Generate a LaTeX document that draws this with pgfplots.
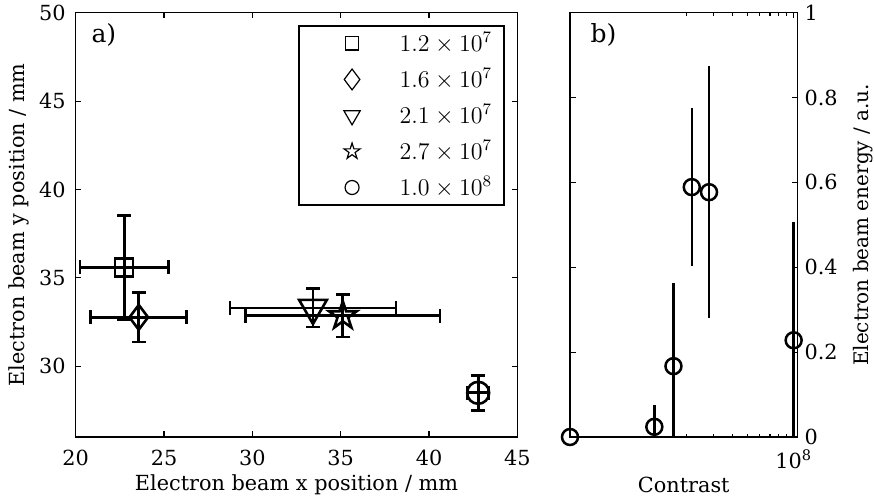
\documentclass[border=0pt]{standalone}
\usepackage{fontspec}
\setmainfont{DejaVu Serif}
\usepackage{pgfplots}
\pgfplotsset{compat=1.18}

% outlined five-pointed star (pentagram) mark
\pgfdeclareplotmark{pstar}{%
  \pgfpathmoveto{\pgfpointpolar{90}{\pgfplotmarksize}}%
  \foreach \a in {1,...,4}{%
    \pgfpathlineto{\pgfpointpolar{90+72*\a-36}{0.382\pgfplotmarksize}}%
    \pgfpathlineto{\pgfpointpolar{90+72*\a}{\pgfplotmarksize}}%
  }%
  \pgfpathlineto{\pgfpointpolar{54}{0.382\pgfplotmarksize}}%
  \pgfpathclose
  \pgfusepathqstroke}

\pgfplotsset{
  base/.style={
    scale only axis,
    height=212.15pt,
    axis line style={line width=0.7pt},
    tick style={black, line width=0.6pt},
    major tick length=2.8pt,
    minor tick length=1.6pt,
    tick align=inside,
    tick label style={font=\fontsize{10.4}{12}\selectfont},
    label style={font=\fontsize{10.4}{12}\selectfont},
    /pgf/number format/assume math mode=true,
    xticklabel style={yshift=-3pt},
    yticklabel style={xshift=-1.5pt},
    xlabel style={yshift=2.5pt},
  },
  % horizontal error bars only, no marker
  xerrs/.style={
    only marks, black, line width=1.4pt, mark=*, mark size=0pt,
    mark options={draw=none, fill=none},
    error bars/x dir=both, error bars/x explicit,
    error bars/error bar style={line width=1.4pt, black},
    error bars/error mark options={rotate=90, line width=1.4pt, mark size=3.5pt, black},
  },
  % vertical error bars with the marker
  yerrs/.style={
    only marks, black, line width=1.4pt,
    error bars/y dir=both, error bars/y explicit,
    error bars/error bar style={line width=1.4pt, black},
    error bars/error mark options={rotate=90, line width=1.4pt, mark size=3.5pt, black},
  },
  limg/.style={
    legend image code/.code={%
      \path (-22pt,-6pt) (21.3pt,6pt);
      \draw[##1] plot coordinates {(0pt,0pt)};}
  },
}

\begin{document}
\begin{tikzpicture}
\useasboundingbox (-37.85pt,-31.5pt) rectangle (399.15pt,218.5pt);

% panel a)
\begin{axis}[
  base,
  width=220.85pt,
  xmin=20, xmax=45, ymin=26, ymax=50,
  xtick={20,25,...,45}, ytick={30,35,...,50},
  xlabel={Electron beam x position / mm},
  ylabel={Electron beam y position / mm},
  ylabel style={yshift=-2pt},
  legend style={at={(0.972,0.971)}, anchor=north east, draw=black,
    line width=1pt, inner xsep=4pt, inner ysep=1.2pt, row sep=3pt,
    font=\fontsize{12}{14}\selectfont, cells={anchor=west},
    nodes={inner sep=2pt}},
  legend cell align=left,
]
% x errors
\addplot+[xerrs, forget plot] coordinates {
  (22.74,35.60) +- (2.50,0)
  (23.57,32.77) +- (2.72,0)
  (33.43,33.30) +- (4.70,0)
  (35.12,32.86) +- (5.50,0)
  (42.78,28.50) +- (0.60,0)
};
% y errors and markers
\addplot+[yerrs, mark=square, mark size=4.5pt,
  mark options={line width=1.3pt, solid}, forget plot]
  coordinates {(22.74,35.60) +- (0,2.95)};
\addplot+[yerrs, mark=diamond, mark size=6.2pt,
  mark options={line width=1.3pt, solid}, forget plot]
  coordinates {(23.57,32.77) +- (0,1.40)};
\addplot+[yerrs, mark=triangle, mark size=8pt,
  mark options={line width=1.3pt, solid, rotate=180}, forget plot]
  coordinates {(33.43,33.30) +- (0,1.08)};
\addplot+[yerrs, mark=pstar, mark size=7.3pt,
  mark options={line width=1.3pt, solid}, forget plot]
  coordinates {(35.12,32.86) +- (0,1.20)};
\addplot+[yerrs, mark=o, mark size=5.5pt,
  mark options={line width=1.3pt, solid}, forget plot]
  coordinates {(42.78,28.50) +- (0,1.00)};

\addlegendimage{limg, only marks, black, mark=square, mark size=3.3pt, mark options={line width=0.6pt}}
\addlegendentry{$1.2\times10^{7}$}
\addlegendimage{limg, only marks, black, mark=diamond, mark size=5.2pt, mark options={line width=0.6pt}}
\addlegendentry{$1.6\times10^{7}$}
\addlegendimage{limg, only marks, black, mark=triangle, mark size=4.7pt, mark options={line width=0.6pt, rotate=180}}
\addlegendentry{$2.1\times10^{7}$}
\addlegendimage{limg, only marks, black, mark=pstar, mark size=4.2pt, mark options={line width=0.6pt}}
\addlegendentry{$2.7\times10^{7}$}
\addlegendimage{limg, only marks, black, mark=o, mark size=3.5pt, mark options={line width=0.6pt}}
\addlegendentry{$1.0\times10^{8}$}

\node[anchor=west, font=\fontsize{12.5}{14}\selectfont] at (rel axis cs:0.02,0.948) {a)};
\end{axis}

% panel b)
\begin{axis}[
  base,
  at={(247.15pt,0pt)}, anchor=south west,
  width=113.75pt,
  xmode=log,
  xmin=3.46e6, xmax=1.06e8, ymin=0, ymax=1,
  xtick={1e8}, xticklabels={10\textsuperscript{8}},
  minor xtick={2e7,3e7,4e7,5e7,6e7,7e7,8e7,9e7},
  ytick={0,0.2,...,1},
  yticklabel pos=right,
  yticklabel style={xshift=1.5pt},
  ylabel near ticks,
  ylabel style={yshift=-1pt},
  xlabel={Contrast},
  ylabel={Electron beam energy / a.u.},
]
\addplot+[only marks, black, mark=o, mark size=4pt, line width=1.25pt,
  mark options={line width=1.25pt, solid},
  error bars/y dir=both, error bars/y explicit,
  error bars/error bar style={line width=1.25pt, black},
  error bars/error mark=none]
  coordinates {
    (3.46e6,0)     +- (0,0)
    (1.23e7,0.024) +- (0,0.051)
    (1.64e7,0.167) +- (0,0.195)
    (2.16e7,0.589) +- (0,0.187)
    (2.80e7,0.577) +- (0,0.297)
    (1.00e8,0.228) +- (0,0.278)
  };
\node[anchor=west, font=\fontsize{12.5}{14}\selectfont] at (rel axis cs:0.06,0.948) {b)};
\end{axis}
\end{tikzpicture}
\end{document}
